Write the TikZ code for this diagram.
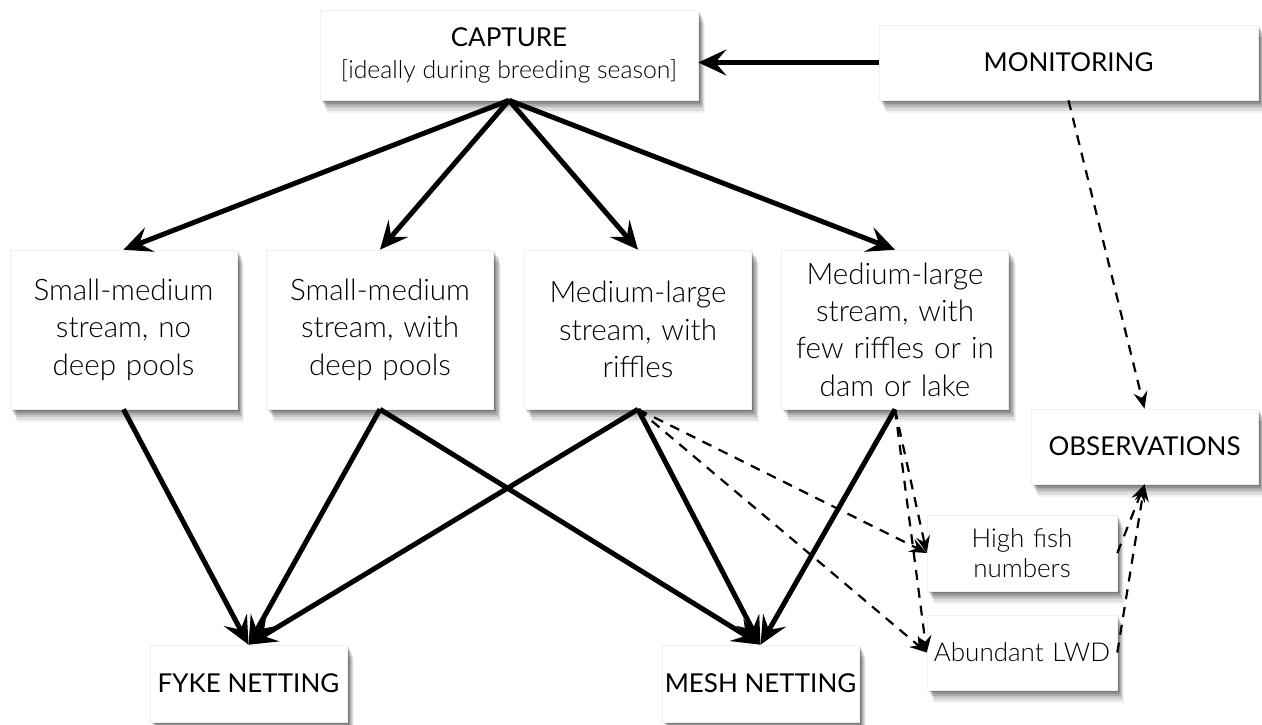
\documentclass[tikz,border=0pt]{standalone}
\usepackage{fontspec}
\setmainfont{Lato}
\newfontfamily\lightfont{Lato Light}
\usetikzlibrary{shadows,arrows.meta}
\tikzset{
  box/.style={fill=white, draw=black!6, line width=0.3pt, inner sep=0pt, align=center,
    general shadow={fill=black,opacity=0.17,shadow xshift=0.8pt,shadow yshift=-1.2pt},
    general shadow={fill=black,opacity=0.15,shadow xshift=1.4pt,shadow yshift=-2.2pt},
    general shadow={fill=black,opacity=0.13,shadow xshift=2pt,shadow yshift=-3.2pt},
    general shadow={fill=black,opacity=0.11,shadow xshift=2.5pt,shadow yshift=-4.2pt},
    general shadow={fill=black,opacity=0.08,shadow xshift=3pt,shadow yshift=-5.4pt},
    general shadow={fill=black,opacity=0.05,shadow xshift=3.5pt,shadow yshift=-6.6pt}},
  bigbox/.style={box, font=\lightfont\fontsize{14.8}{18.7}\selectfont,
    minimum width=113.5pt, minimum height=79.5pt, text width=112pt},
  capsbox/.style={box, font=\fontsize{13}{16}\selectfont},
  smallbox/.style={box, font=\lightfont\fontsize{13}{15}\selectfont,
    minimum width=95pt, text width=90pt},
  sol/.style={-{Stealth[length=14pt,width=13pt,inset=5.5pt]}, line width=2.5pt},
  dsh/.style={-{Stealth[length=8.5pt,width=7pt,inset=3pt]}, line width=1.1pt,
    dash pattern=on 5pt off 4pt}
}
\begin{document}
\begin{tikzpicture}[x=0.5pt,y=-0.5pt]
\fill[white] (0,0) rectangle (1262,724);
\useasboundingbox (0,0) rectangle (1262,724);

\node[capsbox, minimum width=189pt, minimum height=45pt] (cap) at (509,55)
  {CAPTURE\\{\lightfont\fontsize{12.4}{16}\selectfont{}[ideally during breeding season]}};
\node[capsbox, minimum width=189.5pt, minimum height=37.5pt] (mon) at (1068.5,62.5) {MONITORING};

\node[bigbox] (b1) at (123.5,329.5) {Small-medium\\stream, no\\deep pools};
\node[bigbox] (b2) at (380,329.5) {Small-medium\\stream, with\\deep pools};
\node[bigbox] (b3) at (638,329.5) {Medium-large\\stream, with\\riffles};
\node[bigbox] (b4) at (895,329.5) {Medium-large\\stream, with\\few riffles or in\\dam or lake};

\node[capsbox, minimum width=113.5pt, minimum height=37.5pt] (obs) at (1144.5,446.5) {OBSERVATIONS};
\node[smallbox, minimum height=38pt] (hf) at (1022,553) {High fish\\numbers};
\node[smallbox, minimum height=37.5pt] (lwd) at (1022,652.5) {Abundant LWD};

\node[capsbox, minimum width=98.5pt, minimum height=38.5pt] (fyke) at (248.5,683.5) {FYKE NETTING};
\node[capsbox, minimum width=98.5pt, minimum height=38.5pt] (mesh) at (760.5,683.5) {MESH NETTING};

% solid connectors
\draw[sol] (mon.west) -- (cap.east |- mon.west);
\foreach \t in {b1,b2,b3,b4} \draw[sol] (cap.south) -- (\t.north);
\draw[sol] (b1.south) -- (fyke.north);
\draw[sol] (b2.south) -- (fyke.north);
\draw[sol] (b3.south) -- (fyke.north);
\draw[sol] (b2.south) -- (mesh.north);
\draw[sol] (b3.south) -- (mesh.north);
\draw[sol] (b4.south) -- (mesh.north);

% dashed connectors
\draw[dsh] (b3.south) -- (hf.west);
\draw[dsh] (b3.south) -- (lwd.west);
\draw[dsh] (b4.south) -- (hf.west);
\draw[dsh] (b4.south) -- (lwd.west);
\draw[dsh] (hf.east) -- (obs.south);
\draw[dsh] (lwd.east) -- (obs.south);
\draw[dsh] (mon.south) -- (obs.north);
\end{tikzpicture}
\end{document}
